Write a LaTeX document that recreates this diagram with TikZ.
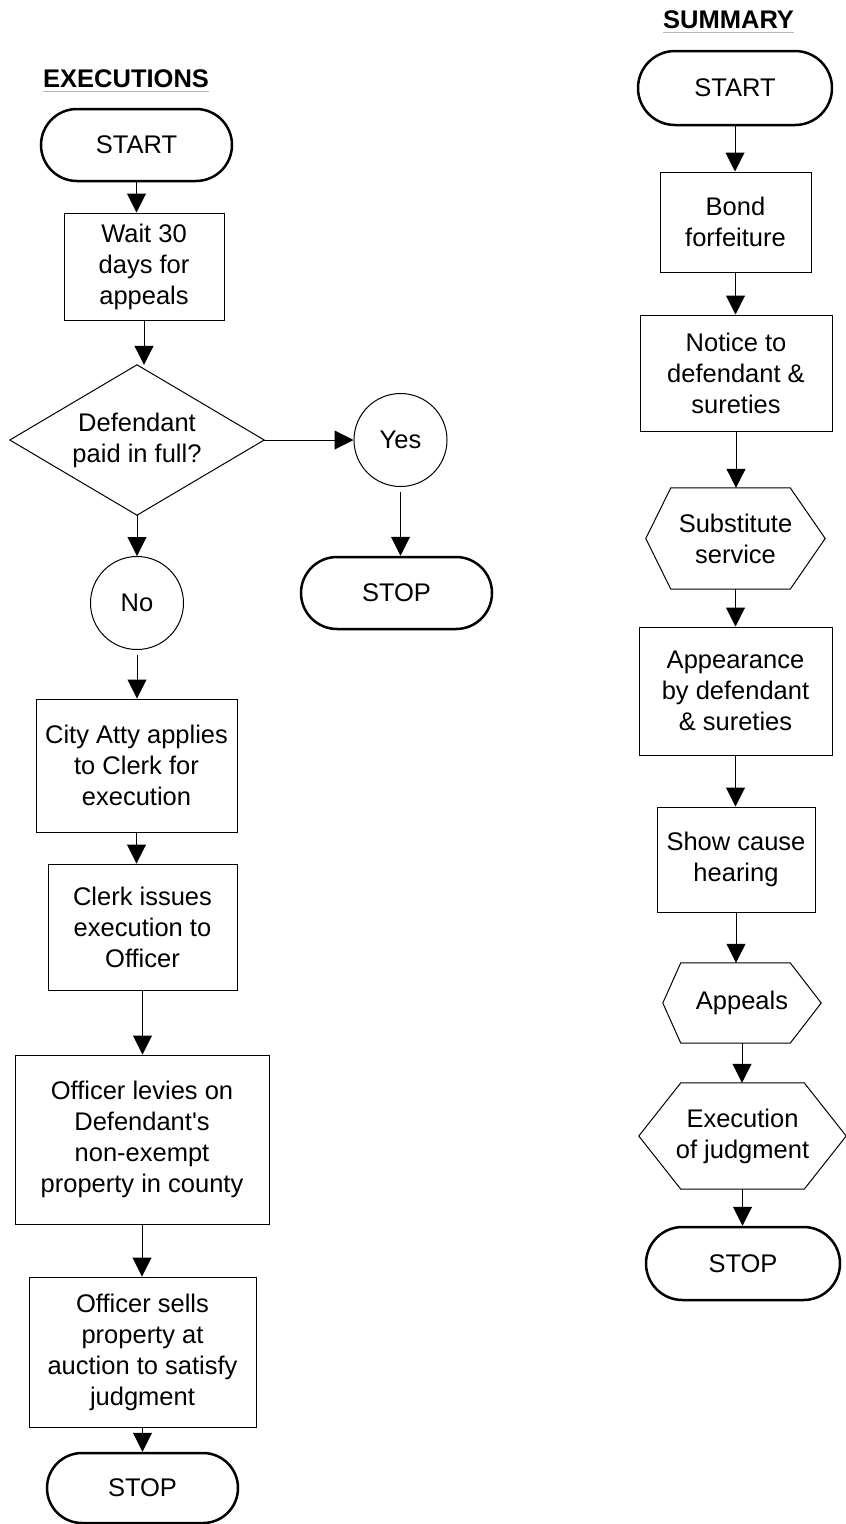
\documentclass[tikz,border=0pt]{standalone}
\usepackage{fontspec}
\setmainfont{Liberation Sans}
\usetikzlibrary{arrows.meta,shapes.misc}
\newcommand\hexdraw[3]{\draw[line width=1pt] ([xshift=#2]#1.north west) -- ([xshift=-#3]#1.north east) -- (#1.east) -- ([xshift=-#3]#1.south east) -- ([xshift=#2]#1.south west) -- (#1.west) -- cycle;}
\begin{document}
\begin{tikzpicture}[x=1pt,y=-1pt,
  every node/.style={font=\fontsize{25.5}{31}\selectfont, align=center, inner sep=0pt},
  term/.style={rounded rectangle, draw, line width=2.5pt, minimum height=72pt, minimum width=191pt},
  proc/.style={rectangle, draw, line width=1pt},
  conn/.style={circle, draw, line width=1pt, minimum size=93pt},
  plain/.style={rectangle},
  arr/.style={line width=1pt, -{Triangle[width=19pt,length=19pt]}},
  ttl/.style={font=\fontsize{25.5}{31}\selectfont\bfseries, anchor=base west},
  uline/.style={gray!55, line width=1pt}
]
\useasboundingbox (0,0) rectangle (846,1524);

% ---------- EXECUTIONS ----------
\node[ttl] (titleE) at (43,87) {EXECUTIONS};
\draw[uline] ([yshift=-4pt]titleE.base west) -- ([yshift=-4pt]titleE.base east);

\node[term] (startE) at (136.5,145) {START};
\node[proc, minimum width=160pt, minimum height=107pt] (wait) at (144,266.5) {Wait 30\\days for\\appeals};
\node[plain, minimum width=254pt, minimum height=150pt] (dia) at (137,440) {Defendant\\paid in full?};
\draw[line width=1pt] (dia.north) -- (dia.east) -- (dia.south) -- (dia.west) -- cycle;
\node[conn] (yes) at (400.5,440) {Yes};
\node[term] (stopY) at (396.5,593) {STOP};
\node[conn] (no) at (137,603) {No};
\node[proc, minimum width=201pt, minimum height=133pt] (city) at (136.5,765.5) {City Atty applies\\to Clerk for\\execution};
\node[proc, minimum width=189pt, minimum height=126pt] (clerk) at (142.5,927) {Clerk issues\\execution to\\Officer};
\node[proc, minimum width=254pt, minimum height=169pt] (levy) at (142,1139.5) {Officer levies on\\Defendant\textquotesingle s\\non-exempt\\property in county};
\node[proc, minimum width=227pt, minimum height=150pt] (sells) at (142.5,1352) {Officer sells\\property at\\auction to satisfy\\judgment};
\node[term, minimum height=70pt] (stopE) at (142.5,1488) {STOP};

\draw[arr] (startE.south) -- (startE.south |- wait.north);
\draw[arr] (wait.south) -- (wait.south |- dia.north);
\draw[arr] (dia.east) -- (dia.east -| yes.west);
\draw[arr, shorten <=5pt] (yes.south) -- (yes.south |- stopY.north);
\draw[arr] (dia.south) -- (no.north);
\draw[arr, shorten <=5pt] (no.south) -- (no.south |- city.north);
\draw[arr] (city.south) -- (city.south |- clerk.north);
\draw[arr] (clerk.south) -- (clerk.south |- levy.north);
\draw[arr] (levy.south) -- (levy.south |- sells.north);
\draw[arr] (sells.south) -- (sells.south |- stopE.north);

% ---------- SUMMARY ----------
\node[ttl] (titleS) at (663,28) {SUMMARY};
\draw[uline] ([yshift=-4pt]titleS.base west) -- ([yshift=-4pt]titleS.base east);

\node[term, minimum width=194pt, minimum height=74pt] (startS) at (735,88) {START};
\node[proc, minimum width=151pt, minimum height=100pt] (bond) at (735.5,222) {Bond\\forfeiture};
\node[proc, minimum width=192pt, minimum height=116pt] (notice) at (736,373) {Notice to\\defendant \&\\sureties};
\node[plain, minimum width=179pt, minimum height=101pt] (subst) at (735.5,538.5) {Substitute\\service};
\hexdraw{subst}{25pt}{35pt}
\node[proc, minimum width=193pt, minimum height=128pt] (appear) at (735.5,691) {Appearance\\by defendant\\\& sureties};
\node[proc, minimum width=158pt, minimum height=105pt] (show) at (736,859.5) {Show cause\\hearing};
\node[plain, minimum width=158pt, minimum height=80pt] (appeals) at (742,1003) {Appeals};
\hexdraw{appeals}{18pt}{31pt}
\node[plain, minimum width=207pt, minimum height=106pt] (exec) at (742.5,1136) {Execution\\of judgment};
\hexdraw{exec}{42pt}{42pt}
\node[term, minimum width=194pt, minimum height=73pt] (stopS) at (743,1263.5) {STOP};

\draw[arr] (startS.south) -- (startS.south |- bond.north);
\draw[arr] (bond.south) -- (bond.south |- notice.north);
\draw[arr] (notice.south) -- (notice.south |- subst.north);
\draw[arr] (subst.south) -- (subst.south |- appear.north);
\draw[arr] (appear.south) -- (appear.south |- show.north);
\draw[arr] (show.south) -- (show.south |- appeals.north);
\draw[arr] (appeals.south) -- (appeals.south |- exec.north);
\draw[arr] (exec.south) -- (exec.south |- stopS.north);
\end{tikzpicture}
\end{document}
